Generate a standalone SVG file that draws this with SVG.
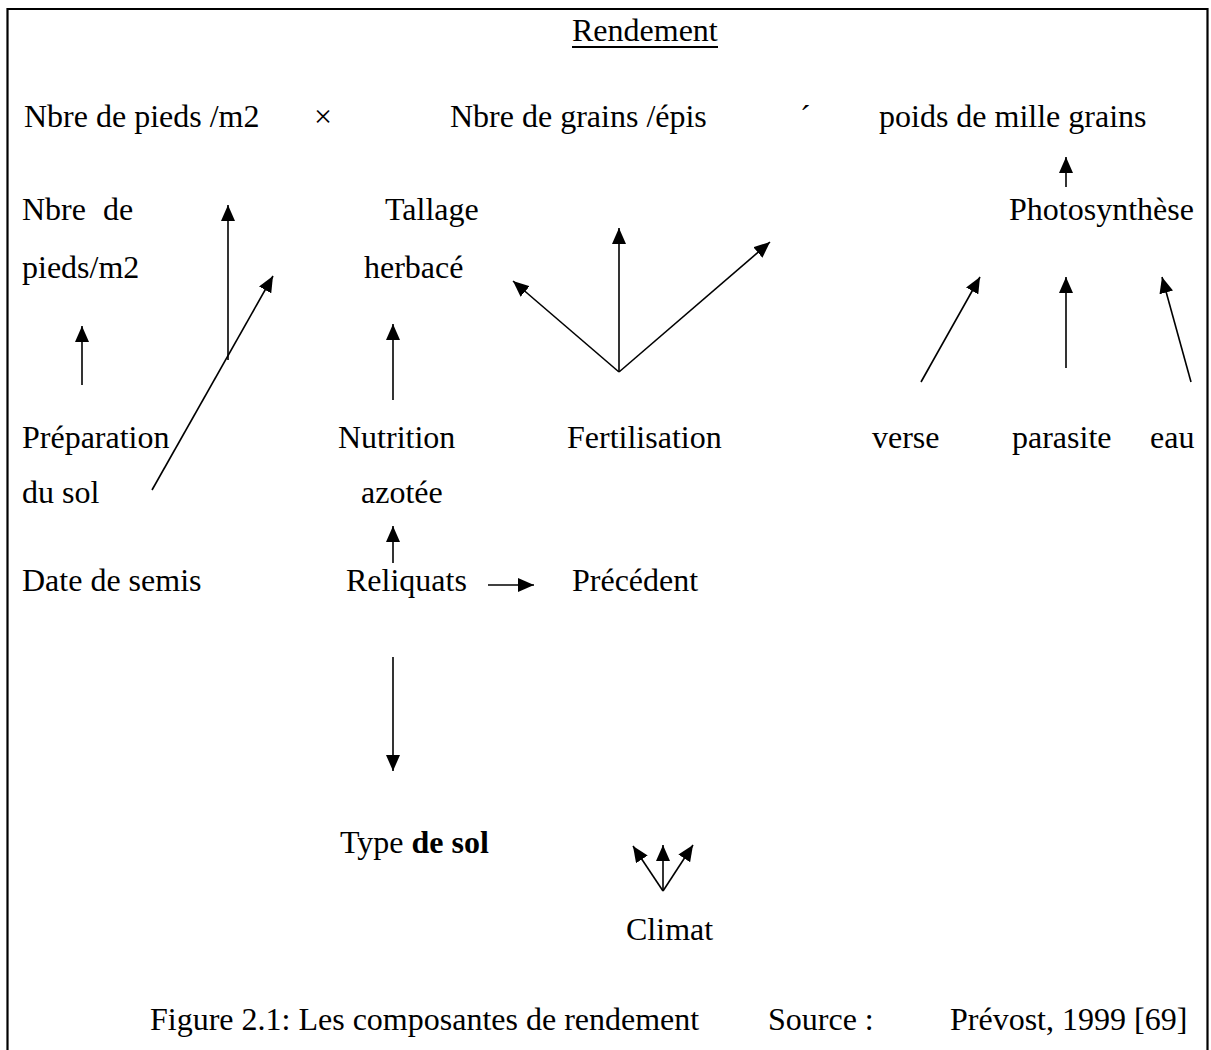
<svg xmlns="http://www.w3.org/2000/svg" width="1211" height="1050" viewBox="0 0 1211 1050">
<style>
text{font-family:"Liberation Serif","Times New Roman",serif;font-size:32px;fill:#000}
.b{font-weight:bold}
.frame{stroke:#000;stroke-width:2.2;fill:none}
.c line{stroke:#000;stroke-width:1.6;marker-end:url(#ah)}
</style>
<defs>
<marker id="ah" viewBox="0 0 16 14" refX="16" refY="7" markerWidth="16" markerHeight="14" markerUnits="userSpaceOnUse" orient="auto">
<path d="M0,0 L16,7 L0,14 z" fill="#000"/>
</marker>
</defs>
<rect width="1211" height="1050" fill="#fff"/>
<path class="frame" d="M7.5,1050 V9 H1207.5 V1050"/>

<g id="title"><text x="572" y="41">Rendement</text><line x1="572" y1="47" x2="718" y2="47" stroke="#000" stroke-width="2"/></g>

<g id="n-pieds"><text x="24" y="127">Nbre de pieds /m2</text></g>
<g id="op-times"><text x="314" y="127">×</text></g>
<g id="n-grains"><text x="450" y="127">Nbre de grains /épis</text></g>
<g id="op-acute"><text x="800" y="127">´</text></g>
<g id="n-pmg"><text x="879" y="127">poids de mille grains</text></g>

<g id="n-nbre"><text x="22" y="220">Nbre</text><text x="103" y="220">de</text><text x="22" y="278">pieds/m2</text></g>
<g id="n-tallage"><text x="385" y="220">Tallage</text><text x="364" y="278">herbacé</text></g>
<g id="n-photo"><text x="1009" y="220">Photosynthèse</text></g>

<g id="n-prep"><text x="22" y="448">Préparation</text><text x="22" y="503">du sol</text></g>
<g id="n-nutri"><text x="338" y="448">Nutrition</text><text x="361" y="503">azotée</text></g>
<g id="n-ferti"><text x="567" y="448">Fertilisation</text></g>
<g id="n-verse"><text x="872" y="448">verse</text></g>
<g id="n-parasite"><text x="1012" y="448">parasite</text></g>
<g id="n-eau"><text x="1150" y="448">eau</text></g>

<g id="n-date"><text x="22" y="591">Date de semis</text></g>
<g id="n-reliq"><text x="346" y="591">Reliquats</text></g>
<g id="n-prec"><text x="572" y="591">Précédent</text></g>

<g id="n-type"><text x="340" y="853">Type <tspan class="b">de sol</tspan></text></g>
<g id="n-climat"><text x="626" y="940">Climat</text></g>

<g id="caption"><text x="150" y="1030">Figure 2.1: Les composantes de rendement</text><text x="768" y="1030">Source :</text><text x="950" y="1030">Prévost, 1999 [69]</text></g>

<g class="c" id="connectors">
<line x1="1066" y1="187" x2="1066" y2="157"/>
<line x1="228" y1="360" x2="228" y2="205"/>
<line x1="152" y1="490" x2="273" y2="276"/>
<line x1="82" y1="385" x2="82" y2="326"/>
<line x1="393" y1="400" x2="393" y2="324"/>
<line x1="619" y1="372" x2="513" y2="281"/>
<line x1="619" y1="372" x2="619" y2="228"/>
<line x1="619" y1="372" x2="770" y2="242"/>
<line x1="921" y1="382" x2="980" y2="277"/>
<line x1="1066" y1="368" x2="1066" y2="277"/>
<line x1="1191" y1="382" x2="1162" y2="277"/>
<line x1="393" y1="563" x2="393" y2="526"/>
<line x1="488" y1="585" x2="534" y2="585"/>
<line x1="393" y1="657" x2="393" y2="771"/>
<line x1="663" y1="891" x2="633" y2="846"/>
<line x1="663" y1="891" x2="663" y2="845"/>
<line x1="663" y1="891" x2="693" y2="845"/>
</g>
</svg>
